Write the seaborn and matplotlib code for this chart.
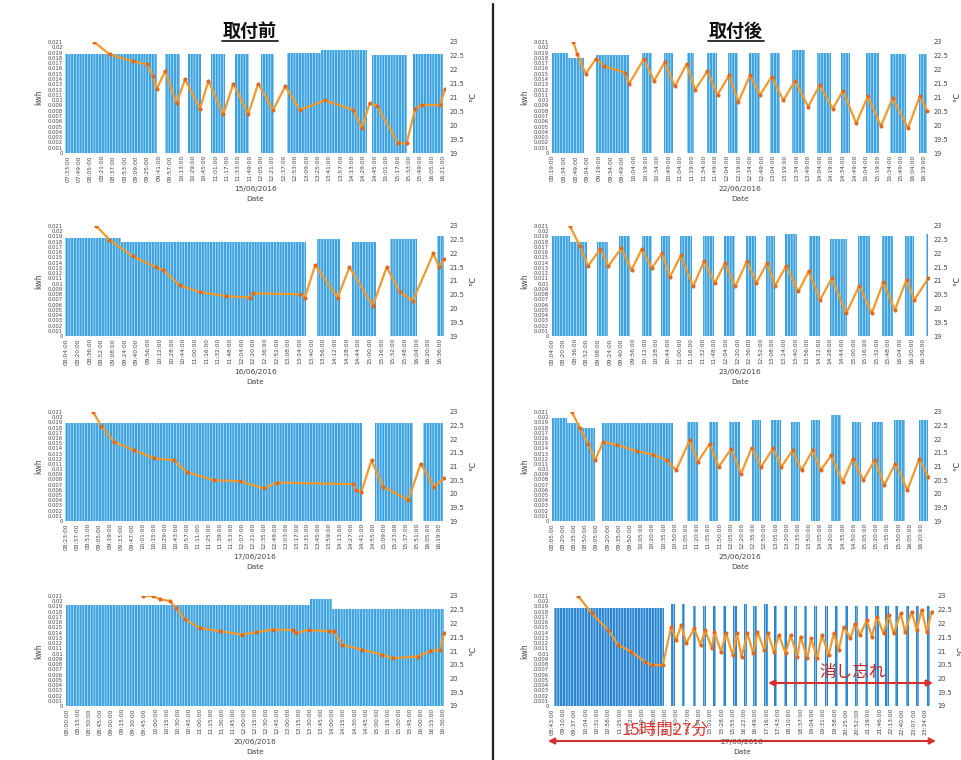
import matplotlib
matplotlib.use("Agg")
import matplotlib.pyplot as plt
from matplotlib.lines import Line2D
import seaborn as sns
import numpy as np

sns.set_theme(style="white")
plt.rcParams['font.family'] = ['DejaVu Sans', 'Noto Sans CJK JP']
plt.rcParams['hatch.linewidth'] = 0.35

# ---------------- data ----------------
KWH_TICKS = [0, 0.001, 0.002, 0.003, 0.004, 0.005, 0.006, 0.007, 0.008, 0.009, 0.01,
             0.011, 0.012, 0.013, 0.014, 0.015, 0.016, 0.017, 0.018, 0.019, 0.02, 0.021]
TEMP_TICKS = [19, 19.5, 20, 20.5, 21, 21.5, 22, 22.5, 23]

# 15/06/2016
D1_DATE = "15/06/2016"
D1_TICKS = ("07:33 07:49 08:05 08:21 08:37 08:53 09:09 09:25 09:41 09:57 10:13 10:29 10:45 11:01 "
            "11:17 11:33 11:49 12:05 12:21 12:37 12:53 13:09 13:25 13:41 13:57 14:13 14:29 14:45 "
            "15:01 15:17 15:33 15:49 16:05 16:21").split()
D1_XLIM = ["07:29", "16:24"]
D1_ON_START = ["07:29", "09:50", "10:22", "10:54", "11:28", "12:05", "12:41", "13:30", "14:41", "15:39"]
D1_ON_END = ["09:39", "10:11", "10:40", "11:14", "11:48", "12:23", "13:30", "14:34", "15:30", "16:21"]
D1_KWH = [0.0188, 0.0188, 0.0188, 0.0188, 0.0188, 0.0188, 0.019, 0.0195, 0.0185, 0.0188]
D1_TEMP_T = ["08:10", "08:32", "09:05", "09:24", "09:33", "09:38", "09:50", "10:06", "10:18", "10:39",
             "10:51", "11:12", "11:26", "11:47", "12:01", "12:22", "12:39", "13:00", "13:35", "14:15",
             "14:27", "14:38", "14:48", "15:18", "15:30", "15:42", "15:51", "16:17", "16:24"]
D1_TEMP = [23.0, 22.55, 22.3, 22.2, 21.76, 21.3, 21.95, 20.8, 21.65, 20.6,
           21.6, 20.4, 21.5, 20.4, 21.5, 20.55, 21.4, 20.55, 20.9, 20.55,
           19.9, 20.8, 20.7, 19.35, 19.35, 20.6, 20.73, 20.73, 21.3]

# 22/06/2016
D2_DATE = "22/06/2016"
D2_TICKS = ("08:19 08:34 08:49 09:04 09:19 09:34 09:49 10:04 10:19 10:34 10:49 11:04 11:19 11:34 "
            "11:49 12:04 12:19 12:34 12:49 13:04 13:19 13:34 13:49 14:04 14:19 14:34 14:49 15:04 "
            "15:19 15:34 15:49 16:04 16:19").split()
D2_XLIM = ["08:17", "16:25"]
D2_ON_START = ["08:18", "08:39", "09:15", "10:15", "10:43", "11:13", "11:38", "12:06", "12:33", "13:00",
               "13:28", "14:01", "14:31", "15:04", "15:35", "16:12"]
D2_ON_END = ["08:39", "09:00", "09:58", "10:28", "10:55", "11:21", "11:51", "12:18", "12:47", "13:13",
             "13:45", "14:19", "14:43", "15:21", "15:55", "16:23"]
D2_KWH = [0.019, 0.018, 0.0185, 0.019, 0.019, 0.019, 0.019, 0.019, 0.019, 0.019,
          0.0195, 0.019, 0.019, 0.019, 0.0188, 0.0188]
D2_TEMP_T = ["08:46", "08:51", "09:02", "09:15", "09:26", "09:52", "09:58", "10:17", "10:30", "10:44",
             "10:57", "11:12", "11:23", "11:39", "11:52", "12:07", "12:19", "12:34", "12:47", "13:02",
             "13:17", "13:32", "13:49", "14:04", "14:21", "14:34", "14:51", "15:06", "15:23", "15:38",
             "15:58", "16:13", "16:23"]
D2_TEMP = [23.0, 22.55, 21.86, 22.4, 22.13, 21.9, 21.5, 22.4, 21.6, 22.27,
           21.4, 22.2, 21.28, 21.95, 21.1, 21.8, 20.85, 21.8, 21.1, 21.75,
           20.9, 21.6, 20.67, 21.45, 20.6, 21.25, 20.07, 21.04, 19.97, 20.98,
           19.9, 21.04, 20.5]

# 16/06/2016
D3_DATE = "16/06/2016"
D3_TICKS = ("08:04 08:20 08:36 08:52 09:08 09:24 09:40 09:56 10:12 10:28 10:44 11:00 11:16 11:32 "
            "11:48 12:04 12:20 12:36 12:52 13:08 13:24 13:40 13:56 14:12 14:28 14:44 15:00 15:16 "
            "15:32 15:48 16:04 16:20 16:36").split()
D3_XLIM = ["08:02", "16:43"]
D3_ON_START = ["08:02", "09:19", "13:47", "14:36", "15:27", "16:32"]
D3_ON_END = ["09:19", "13:33", "14:19", "15:09", "16:04", "16:41"]
D3_KWH = [0.0188, 0.018, 0.0186, 0.018, 0.0186, 0.019]
D3_TEMP_T = ["08:45", "09:03", "09:35", "10:07", "10:17", "10:39", "11:07", "11:43", "12:15", "12:20",
             "13:24", "13:31", "13:45", "14:16", "14:32", "15:04", "15:23", "15:41", "15:59", "16:27",
             "16:35", "16:42"]
D3_TEMP = [23.0, 22.5, 21.9, 21.5, 21.4, 20.85, 20.6, 20.45, 20.4, 20.55,
           20.52, 20.4, 21.58, 20.4, 21.5, 20.1, 21.5, 20.6, 20.28, 22.0,
           21.5, 21.8]

# 23/06/2016
D4_DATE = "23/06/2016"
D4_TICKS = D3_TICKS
D4_XLIM = ["08:03", "16:44"]
D4_ON_START = ["08:04", "08:29", "09:07", "09:37", "10:08", "10:34", "11:01", "11:32", "12:01", "12:32",
               "13:00", "13:25", "13:58", "14:27", "15:06", "15:39", "16:11", "16:40"]
D4_ON_END = ["08:29", "08:52", "09:22", "09:52", "10:22", "10:47", "11:17", "11:47", "12:17", "12:45",
             "13:12", "13:42", "14:14", "14:51", "15:22", "15:55", "16:24", "16:43"]
D4_KWH = [0.019, 0.018, 0.018, 0.019, 0.019, 0.019, 0.019, 0.019, 0.019, 0.019,
          0.019, 0.0195, 0.019, 0.0185, 0.019, 0.019, 0.019, 0.0195]
D4_TEMP_T = ["08:29", "08:43", "08:54", "09:11", "09:22", "09:40", "09:54", "10:08", "10:22", "10:36",
             "10:47", "11:02", "11:19", "11:34", "11:49", "12:03", "12:17", "12:33", "12:46", "13:01",
             "13:12", "13:27", "13:44", "13:58", "14:14", "14:30", "14:50", "15:08", "15:25", "15:41",
             "15:57", "16:13", "16:24", "16:43"]
D4_TEMP = [23.0, 22.27, 21.54, 22.17, 21.54, 22.2, 21.4, 22.15, 21.48, 22.0,
           21.15, 21.93, 20.8, 21.72, 20.93, 21.66, 20.8, 21.72, 20.93, 21.66,
           20.83, 21.54, 20.62, 21.35, 20.32, 21.1, 19.83, 20.83, 19.83, 20.95,
           19.95, 21.05, 20.32, 21.1]

# 17/06/2016
D5_DATE = "17/06/2016"
D5_TICKS = ("08:23 08:37 08:51 09:05 09:19 09:33 09:47 10:01 10:15 10:29 10:43 10:57 11:11 11:25 "
            "11:39 11:53 12:07 12:21 12:35 12:49 13:03 13:17 13:31 13:45 13:59 14:13 14:27 14:41 "
            "14:55 15:09 15:23 15:37 15:51 16:05 16:19").split()
D5_XLIM = ["08:21", "16:27"]
D5_ON_START = ["08:21", "14:57", "15:59"]
D5_ON_END = ["14:41", "15:46", "16:24"]
D5_KWH = [0.0188, 0.0188, 0.0188]
D5_TEMP_T = ["08:57", "09:07", "09:24", "09:49", "10:15", "10:40", "10:57", "11:31", "12:05", "12:35",
             "12:52", "14:29", "14:33", "14:40", "14:53", "15:08", "15:40", "15:56", "16:13", "16:26"]
D5_TEMP = [23.0, 22.5, 21.9, 21.6, 21.3, 21.23, 20.8, 20.5, 20.46, 20.2,
           20.41, 20.35, 20.13, 20.07, 21.23, 20.26, 19.77, 21.1, 20.26, 20.56]

# 25/06/2016
D6_DATE = "25/06/2016"
D6_TICKS = ("08:05 08:20 08:35 08:50 09:05 09:20 09:35 09:50 10:05 10:20 10:35 10:50 11:05 11:20 "
            "11:35 11:50 12:05 12:20 12:35 12:50 13:05 13:20 13:35 13:50 14:05 14:20 14:35 14:50 "
            "15:05 15:20 15:35 15:50 16:05 16:20").split()
D6_XLIM = ["08:04", "16:31"]
D6_ON_START = ["08:05", "08:25", "08:43", "09:12", "11:07", "11:36", "12:03", "12:33", "12:59", "13:26",
               "13:53", "14:20", "14:48", "15:15", "15:44", "16:17"]
D6_ON_END = ["08:25", "08:43", "09:03", "10:48", "11:21", "11:48", "12:17", "12:46", "13:13", "13:38",
             "14:05", "14:33", "15:00", "15:29", "15:59", "16:29"]
D6_KWH = [0.0198, 0.0188, 0.018, 0.0188, 0.019, 0.019, 0.019, 0.0195, 0.0195, 0.019,
          0.0195, 0.0205, 0.019, 0.019, 0.0195, 0.0195]
D6_TEMP_T = ["08:32", "08:43", "08:54", "09:03", "09:14", "09:32", "09:59", "10:21", "10:39", "10:52",
             "11:10", "11:21", "11:37", "11:49", "12:06", "12:19", "12:33", "12:46", "13:02", "13:13",
             "13:28", "13:40", "13:55", "14:06", "14:20", "14:35", "14:49", "15:03", "15:18", "15:31",
             "15:46", "16:02", "16:18", "16:30"]
D6_TEMP = [23.0, 22.4, 21.84, 21.23, 21.9, 21.8, 21.56, 21.44, 21.23, 20.87,
           21.96, 21.17, 21.84, 20.99, 21.66, 20.74, 21.68, 20.99, 21.68, 20.99,
           21.6, 20.87, 21.6, 20.87, 21.41, 20.44, 21.29, 20.5, 21.23, 20.32,
           21.11, 20.13, 21.29, 20.62]

# 20/06/2016
D7_DATE = "20/06/2016"
D7_TICKS = ("08:00 08:15 08:30 08:45 09:00 09:15 09:30 09:45 10:00 10:15 10:30 10:45 11:00 11:15 "
            "11:30 11:45 12:00 12:15 12:30 12:45 13:00 13:15 13:30 13:45 14:00 14:15 14:30 14:45 "
            "15:00 15:15 15:30 15:45 16:00 16:15 16:30").split()
D7_XLIM = ["07:57", "16:33"]
D7_ON_START = ["07:58", "13:30", "14:00"]
D7_ON_END = ["13:30", "14:00", "16:32"]
D7_KWH = [0.0193, 0.0205, 0.0185]
D7_TEMP_T = ["09:43", "09:57", "10:06", "10:19", "10:28", "10:40", "11:00", "11:27", "11:58", "12:16",
             "12:39", "13:06", "13:10", "13:28", "13:55", "14:02", "14:13", "14:40", "15:07", "15:23",
             "15:56", "16:12", "16:26", "16:32"]
D7_TEMP = [23.0, 23.0, 22.88, 22.82, 22.57, 22.15, 21.84, 21.72, 21.6, 21.68,
           21.78, 21.76, 21.66, 21.76, 21.72, 21.72, 21.23, 21.05, 20.87, 20.74,
           20.8, 20.99, 21.05, 21.66]

# 27/06/2016
D8_DATE = "27/06/2016"
D8_TICKS = ("08:43 09:10 09:37 10:04 10:31 10:58 11:25 11:52 12:19 12:46 13:13 13:40 14:07 14:34 "
            "15:01 15:28 15:55 16:22 16:49 17:16 17:43 18:10 18:37 19:04 19:31 19:58 20:25 20:52 "
            "21:19 21:46 22:13 22:40 23:07 23:34").split()
D8_XLIM = ["08:41", "23:53"]
D8_ON_START = ["08:47", "13:28", "13:53", "14:19", "14:43", "15:07", "15:31", "15:56", "16:21", "16:44",
               "17:10", "17:33", "17:57", "18:21", "18:45", "19:08", "19:35", "19:58", "20:22", "20:47",
               "21:11", "21:35", "21:59", "22:22", "22:48", "23:12", "23:38"]
D8_ON_END = ["13:11", "13:36", "14:01", "14:27", "14:51", "15:15", "15:39", "16:04", "16:29", "16:52",
             "17:18", "17:41", "18:05", "18:29", "18:53", "19:16", "19:43", "20:06", "20:30", "20:55",
             "21:19", "21:43", "22:07", "22:30", "22:56", "23:20", "23:46"]
D8_KWH = [0.0188, 0.0195, 0.0195, 0.019, 0.019, 0.019, 0.019, 0.019, 0.0195, 0.019,
          0.0195, 0.019, 0.019, 0.019, 0.019, 0.019, 0.019, 0.019, 0.019, 0.019,
          0.019, 0.019, 0.019, 0.019, 0.019, 0.019, 0.019]
D8_TEMP_T = ["09:46", "10:18", "10:58", "11:21", "11:53", "12:25", "12:41", "13:08", "13:28", "13:40",
             "13:52", "14:04", "14:23", "14:38", "14:49", "15:05", "15:11", "15:27", "15:39", "15:55",
             "16:05", "16:16", "16:30", "16:44", "16:54", "17:10", "17:19", "17:33", "17:45", "18:01",
             "18:13", "18:29", "18:37", "18:53", "19:02", "19:16", "19:28", "19:44", "19:56", "20:08",
             "20:20", "20:36", "20:47", "20:59", "21:15", "21:27", "21:39", "21:55", "22:07", "22:19",
             "22:36", "22:46", "23:02", "23:14", "23:26", "23:38", "23:50"]
D8_TEMP = [23.0, 22.37, 21.76, 21.22, 20.98, 20.61, 20.49, 20.49, 21.88, 21.4,
           21.95, 21.28, 21.82, 21.22, 21.76, 21.1, 21.7, 20.98, 21.64, 20.85,
           21.64, 20.79, 21.64, 20.91, 21.7, 21.04, 21.64, 20.98, 21.58, 20.91,
           21.58, 20.79, 21.52, 20.73, 21.46, 20.73, 21.58, 20.85, 21.64, 21.04,
           21.88, 21.46, 22.0, 21.58, 22.13, 21.52, 22.25, 21.64, 22.31, 21.64,
           22.37, 21.7, 22.43, 21.76, 22.5, 21.7, 22.43]

PANELS = [
    (D1_DATE, D1_TICKS, D1_XLIM, D1_ON_START, D1_ON_END, D1_KWH, D1_TEMP_T, D1_TEMP),
    (D2_DATE, D2_TICKS, D2_XLIM, D2_ON_START, D2_ON_END, D2_KWH, D2_TEMP_T, D2_TEMP),
    (D3_DATE, D3_TICKS, D3_XLIM, D3_ON_START, D3_ON_END, D3_KWH, D3_TEMP_T, D3_TEMP),
    (D4_DATE, D4_TICKS, D4_XLIM, D4_ON_START, D4_ON_END, D4_KWH, D4_TEMP_T, D4_TEMP),
    (D5_DATE, D5_TICKS, D5_XLIM, D5_ON_START, D5_ON_END, D5_KWH, D5_TEMP_T, D5_TEMP),
    (D6_DATE, D6_TICKS, D6_XLIM, D6_ON_START, D6_ON_END, D6_KWH, D6_TEMP_T, D6_TEMP),
    (D7_DATE, D7_TICKS, D7_XLIM, D7_ON_START, D7_ON_END, D7_KWH, D7_TEMP_T, D7_TEMP),
    (D8_DATE, D8_TICKS, D8_XLIM, D8_ON_START, D8_ON_END, D8_KWH, D8_TEMP_T, D8_TEMP),
]

# ---------------- drawing ----------------
W, H = 962, 760
BLUE = "#3CA3E0"
BLUE_DENSE = "#2A86D2"
ORANGE = "#F29A2E"
MARK = "#E2691C"
TXT = "#444444"
CJK = ['Noto Sans CJK JP', 'DejaVu Sans']


def minutes(t):
    h, mm = t.split(":")
    return int(h) * 60 + int(mm)


fig = plt.figure(figsize=(W / 100, H / 100), dpi=100)

# axes rectangles in pixels: (left, right) and (top, bottom)
col_x = [(65, 445), (551, 929)]
row_y = [(42, 153), (226, 336), (412, 521), (596, 706)]

for i, (date, ticks, xlim, on_s, on_e, kwh, tt, tv) in enumerate(PANELS):
    r, c = i // 2, i % 2
    x0, x1 = col_x[c]
    if i == 7:
        x1 = 933
    y0, y1 = row_y[r]
    ax = fig.add_axes([x0 / W, 1 - y1 / H, (x1 - x0) / W, (y1 - y0) / H])
    xs = [minutes(s) for s in on_s]
    ws = [minutes(e) - minutes(s) for s, e in zip(on_s, on_e)]
    ax.bar(xs, kwh, width=ws, align='edge', color=BLUE_DENSE if i == 7 else BLUE,
           edgecolor='white', linewidth=0, hatch='||||||')
    ax.set_xlim(minutes(xlim[0]), minutes(xlim[1]))
    ax.set_ylim(0, 0.021)
    ax.set_yticks(KWH_TICKS)
    ax.set_yticklabels([f"{v:g}" for v in KWH_TICKS], fontsize=3.8, color=TXT)
    ax.set_xticks([minutes(t) for t in ticks])
    ax.set_xticklabels([t + ":00" for t in ticks], rotation=90, fontsize=4.2, color=TXT)
    ax.tick_params(length=0, pad=1.5)
    ax.set_ylabel("kwh", fontsize=5.5, color=TXT, labelpad=3)
    ax.set_xlabel(date + "\n" + "Date", fontsize=5.3, color=TXT, labelpad=3, linespacing=1.8)
    for s in ax.spines.values():
        s.set_visible(False)

    ax2 = ax.twinx()
    sns.lineplot(x=[minutes(t) for t in tt], y=tv, ax=ax2, color=ORANGE, linewidth=1.6,
                 marker='o', markersize=2.2, markerfacecolor=MARK, markeredgecolor=MARK,
                 sort=False, estimator=None)
    ax2.set_ylim(19, 23)
    ax2.set_yticks(TEMP_TICKS)
    ax2.set_yticklabels([f"{v:g}" for v in TEMP_TICKS], fontsize=4.8, color=TXT)
    ax2.tick_params(length=0, pad=3)
    ax2.set_ylabel("℃", fontsize=6, color=TXT, labelpad=3)
    for s in ax2.spines.values():
        s.set_visible(False)

# titles with underline
fig.text(250 / W, 1 - 31 / H, "取付前", ha='center', va='center', fontsize=13,
         fontweight='bold', family=CJK, color='#111111')
fig.add_artist(Line2D([222 / W, 278 / W], [1 - 41 / H] * 2, color='#111111', lw=1.2))
fig.text(736 / W, 1 - 31 / H, "取付後", ha='center', va='center', fontsize=13,
         fontweight='bold', family=CJK, color='#111111')
fig.add_artist(Line2D([708 / W, 764 / W], [1 - 41 / H] * 2, color='#111111', lw=1.2))

# vertical divider
fig.add_artist(Line2D([493 / W] * 2, [0, 1 - 4 / H], color='#222222', lw=1.6))

# annotations on last panel
RED = "#D32F2F"
fig.text(853 / W, 1 - 673 / H, "消し忘れ", ha='center', va='center', fontsize=12,
         family=CJK, color='#C62828')
fig.add_artist(plt.Annotation("", xy=(933 / W, 1 - 683 / H), xytext=(768 / W, 1 - 683 / H),
                              xycoords='figure fraction', textcoords='figure fraction',
                              arrowprops=dict(arrowstyle='<|-|>', color=RED, lw=1.5,
                                              mutation_scale=9, shrinkA=0, shrinkB=0)))
fig.text(665 / W, 1 - 730 / H, "15時間27分", ha='center', va='center', fontsize=12,
         family=CJK, color='#E53935')
fig.add_artist(plt.Annotation("", xy=(936 / W, 1 - 741 / H), xytext=(548 / W, 1 - 741 / H),
                              xycoords='figure fraction', textcoords='figure fraction',
                              arrowprops=dict(arrowstyle='<|-|>', color=RED, lw=1.5,
                                              mutation_scale=9, shrinkA=0, shrinkB=0)))

fig.savefig("out.png", dpi=100, facecolor='white')
